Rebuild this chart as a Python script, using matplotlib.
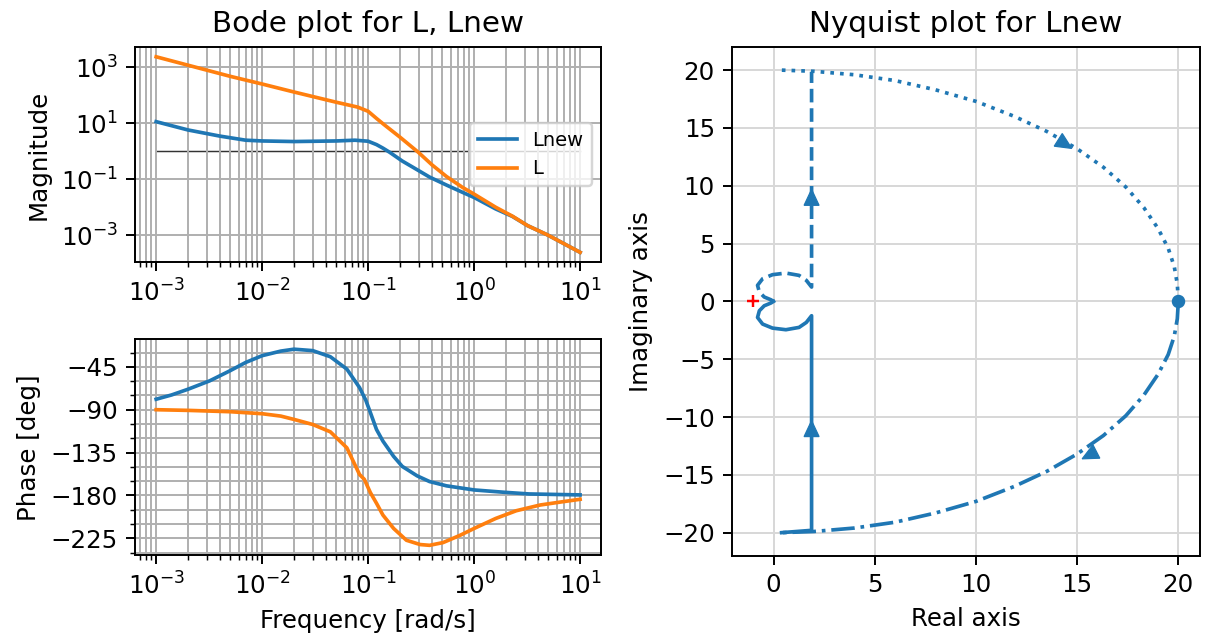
import math
import matplotlib
matplotlib.use("Agg")
import matplotlib.pyplot as plt
import matplotlib.patches as patches
from matplotlib.transforms import IdentityTransform
from matplotlib.ticker import MultipleLocator, NullLocator

# --- Bode data (frequency in rad/s) ---
freq_mag_L = [0.001, 0.002, 0.005, 0.01, 0.02, 0.05, 0.08, 0.1, 0.12, 0.14, 0.2,
              0.3, 0.4, 0.55, 0.78, 1.0, 1.6, 2.3, 3.2, 5.0, 10.0]
mag_L = [2400, 1200, 480, 255, 132, 57, 38, 27, 15, 9.3, 3.2,
         0.9, 0.33, 0.125, 0.051, 0.0295, 0.010, 0.0048, 0.0022, 0.0010, 0.000245]

freq_mag_Lnew = [0.001, 0.002, 0.004, 0.007, 0.01, 0.02, 0.05, 0.075, 0.1, 0.12, 0.138,
                 0.16, 0.21, 0.29, 0.38, 0.55, 0.78, 1.0, 1.6, 2.3, 3.2, 5.0, 10.0]
mag_Lnew = [11.5, 5.8, 3.5, 2.5, 2.35, 2.24, 2.35, 2.5, 2.3, 1.74, 1.3,
            0.92, 0.45, 0.22, 0.12, 0.062, 0.034, 0.0224, 0.0087, 0.0047, 0.0022, 0.0010, 0.000245]
mag_ticks = [1e-3, 1e-1, 1e1, 1e3]

freq_ph_Lnew = [0.001, 0.0014, 0.002, 0.0032, 0.005, 0.007, 0.01, 0.015, 0.02, 0.03, 0.044,
                0.063, 0.083, 0.095, 0.105, 0.12, 0.138, 0.174, 0.21, 0.29, 0.38, 0.55,
                1.0, 1.9, 3.3, 10.0]
ph_Lnew = [-79, -74.5, -68.5, -59.7, -49, -40.4, -33.3, -28.5, -26.5, -28, -34.4,
           -47.4, -66.8, -80, -93, -110.8, -123, -139, -149.5, -159.4, -165.4, -169.9,
           -174.2, -176.6, -178.4, -179.4]

freq_ph_L = [0.001, 0.002, 0.005, 0.01, 0.015, 0.02, 0.03, 0.044, 0.063, 0.083, 0.092,
             0.105, 0.12, 0.138, 0.174, 0.23, 0.31, 0.38, 0.51, 0.74, 1.0, 1.6, 2.5,
             4.2, 6.9, 10.0]
ph_L = [-90, -90.7, -92.1, -94.2, -96.7, -100.2, -105.5, -113.2, -130, -158, -163,
        -177, -188.2, -200.6, -214.6, -227, -231.5, -232.3, -229.4, -221.7, -214.6,
        -204.1, -196, -190, -186.5, -184]

# --- Nyquist data for Lnew ---
# primary curve (positive frequencies), unscaled part
ny_re = [0.4, 1.88, 1.88, 1.88, 1.62, 1.26, 0.61, -0.05, -0.54, -0.79, -0.70, -0.46, -0.13, 0.0]
ny_im = [-20.0, -19.8, -10.0, -1.24, -1.82, -2.25, -2.45, -2.31, -1.96, -1.39, -0.81, -0.38, -0.14, 0.0]
# mirror curve (negative frequencies), unscaled part
mir_re = [0.0, -0.13, -0.46, -0.70, -0.79, -0.54, -0.05, 0.61, 1.26, 1.62, 1.88, 1.88, 1.88]
mir_im = [0.0, 0.14, 0.38, 0.81, 1.39, 1.96, 2.31, 2.45, 2.25, 1.82, 1.24, 10.0, 19.86]
# scaled (|L| > 20) parts
arc_lo_re = [20.0, 19.95, 19.8, 19.5, 19.0, 18.3, 17.4, 16.3, 15.0, 13.5, 11.9, 10.0,
             8.0, 6.0, 4.0, 2.0, 0.4]
arc_lo_im = [0.0, -1.5, -3.0, -4.6, -6.3, -8.1, -9.9, -11.6, -13.2, -14.7, -16.0, -17.3,
             -18.3, -19.1, -19.6, -19.9, -20.0]
arc_hi_re = [0.41, 2.0, 4.0, 6.0, 8.0, 10.0, 11.9, 13.5, 15.0, 16.3, 17.4, 18.3,
             19.0, 19.5, 19.8, 19.95, 20.0]
arc_hi_im = [20.0, 19.9, 19.6, 19.1, 18.3, 17.3, 16.0, 14.7, 13.2, 11.6, 9.9, 8.1,
             6.3, 4.6, 3.0, 1.5, 0.0]

# direction arrows on the Nyquist curve: (arrow centre, point further along the curve)
ny_arrows = [((1.88, -11.0), (1.88, -9.0)),
             ((1.88, 9.0), (1.88, 11.0)),
             ((14.4, 13.6), (15.3, 12.6)),
             ((15.6, -13.3), (14.6, -14.2))]

c_new = 'C0'
c_old = 'C1'

DPI = 176
fig = plt.figure(figsize=(1205 / DPI, 644 / DPI), dpi=DPI)
ax_mag = fig.add_axes([0.112, 0.593, 0.387, 0.334])
ax_ph = fig.add_axes([0.112, 0.138, 0.387, 0.335])
ax_ny = fig.add_axes([0.6075, 0.137, 0.388, 0.790])

# magnitude
ax_mag.loglog(freq_mag_Lnew, mag_Lnew, color=c_new, lw=1.5, label='Lnew')
ax_mag.loglog(freq_mag_L, mag_L, color=c_old, lw=1.5, label='L')
ax_mag.plot([freq_mag_L[0], freq_mag_L[-1]], [1, 1], color='k', lw=0.6, alpha=0.8, zorder=1.5)
ax_mag.set_yticks(mag_ticks)
ax_mag.yaxis.set_minor_locator(NullLocator())
ax_mag.grid(True, which='both')
ax_mag.set_ylabel('Magnitude')
ax_mag.set_title('Bode plot for L, Lnew')
ax_mag.legend(loc='center right', fontsize=8)

# phase
ax_ph.semilogx(freq_ph_Lnew, ph_Lnew, color=c_new, lw=1.5)
ax_ph.semilogx(freq_ph_L, ph_L, color=c_old, lw=1.5)
ax_ph.yaxis.set_major_locator(MultipleLocator(45))
ax_ph.yaxis.set_minor_locator(MultipleLocator(15))
ax_ph.grid(True, which='both')
ax_ph.set_ylabel('Phase [deg]')
ax_ph.set_xlabel('Frequency [rad/s]')

# nyquist
ax_ny.plot(ny_re, ny_im, color=c_new, lw=1.5, ls='-')
ax_ny.plot(mir_re, mir_im, color=c_new, lw=1.5, ls='--')
ax_ny.plot(arc_lo_re, arc_lo_im, color=c_new, lw=1.5, ls='-.')
ax_ny.plot(arc_hi_re, arc_hi_im, color=c_new, lw=1.5, ls=':')
ax_ny.plot(arc_hi_re[-1], arc_hi_im[-1], 'o', color=c_new, markersize=4.5)
ax_ny.plot(-1, 0, 'r+', markersize=5)
ax_ny.autoscale_view()
ax_ny.set_xlim(ax_ny.get_xlim())
ax_ny.set_ylim(ax_ny.get_ylim())

# arrow heads: triangles built in pixel space so they follow the curve direction
head_len = 16.0   # px
head_half = 7.5   # px
for centre, ahead in ny_arrows:
    p0 = ax_ny.transData.transform(centre)
    p1 = ax_ny.transData.transform(ahead)
    ang = math.atan2(p1[1] - p0[1], p1[0] - p0[0])
    ux, uy = math.cos(ang), math.sin(ang)
    nx, ny = -uy, ux
    tip = (p0[0] + ux * head_len / 2, p0[1] + uy * head_len / 2)
    b1 = (p0[0] - ux * head_len / 2 + nx * head_half, p0[1] - uy * head_len / 2 + ny * head_half)
    b2 = (p0[0] - ux * head_len / 2 - nx * head_half, p0[1] - uy * head_len / 2 - ny * head_half)
    tri = patches.Polygon([tip, b1, b2], closed=True, facecolor=c_new, edgecolor=c_new,
                          linewidth=0.5, transform=IdentityTransform(), zorder=3)
    ax_ny.add_artist(tri)

ax_ny.grid(True, color='#d8d8d8')
ax_ny.set_xlabel('Real axis')
ax_ny.set_ylabel('Imaginary axis')
ax_ny.set_title('Nyquist plot for Lnew')

fig.savefig('out.png', dpi=DPI)
